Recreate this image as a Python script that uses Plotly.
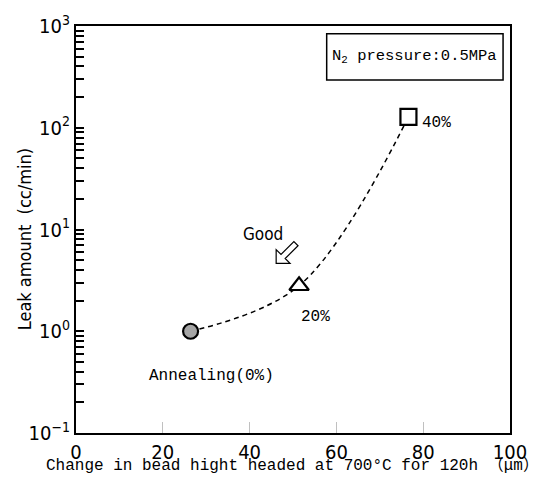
import plotly.graph_objects as go

# Data
bead_change = [26.4, 51.4, 76.6]          # um
leak_amount = [1.0, 2.8, 128.0]           # cc/min
point_labels = ["Annealing(0%)", "20%", "40%"]
symbols = ["circle", "triangle-up", "square"]
fills = ["#a6a6a6", "white", "white"]
sizes = [15, 17, 16]

x_ticks = [0, 20, 40, 60, 80, 100]
y_decades = [0.1, 1, 10, 100, 1000]
y_decade_text = ["10<sup>−1</sup>", "10<sup>0</sup>", "10<sup>1</sup>", "10<sup>2</sup>", "10<sup>3</sup>"]

# tick positions: decades labelled, 2..9 multiples unlabelled
y_tickvals, y_ticktext = [], []
for d, t in zip(y_decades, y_decade_text):
    y_tickvals.append(d)
    y_ticktext.append(t)
    if d < 1000:
        for m in range(2, 10):
            y_tickvals.append(d * m)
            y_ticktext.append(" ")

NARROW = "Liberation Sans Narrow, DejaVu Sans Condensed, Liberation Sans, Arial"
MONO = "Liberation Mono, DejaVu Sans Mono, Noto Sans CJK JP, monospace"

fig = go.Figure()
fig.add_trace(go.Scatter(
    x=bead_change, y=leak_amount, mode="lines",
    line=dict(color="black", width=1.5, dash="5px,4px", shape="spline", smoothing=1.0),
    hoverinfo="skip", showlegend=False))
fig.add_trace(go.Scatter(
    x=bead_change, y=leak_amount, mode="markers",
    marker=dict(symbol=symbols, size=sizes, color=fills, opacity=1,
                line=dict(color="black", width=2.2)),
    showlegend=False))

L, R, T, B = 76, 25, 18, 58
W, H = 539, 491
pw, ph = W - L - R, H - T - B

def px(x):
    return (x - L) / pw

def py(y):
    return (H - B - y) / ph

annos = [
    ("Annealing(0%)", 213, 375, MONO, 16),
    ("20%", 318, 315, MONO, 16),
    ("40%", 440, 117, MONO, 16),
    ("Good", 265, 230, NARROW, 17),
    ("N<sub>2</sub> pressure:0.5MPa", 418, 49, MONO, 15.5),
]
for text, x, y, fam, sz in annos:
    fig.add_annotation(text=text, x=px(x), y=py(y), xref="paper", yref="paper",
                       showarrow=False, xanchor="center", yanchor="middle",
                       font=dict(family=fam, size=sz, color="black"))

# axis titles placed as annotations for precise position
fig.add_annotation(text="Change in bead hight headed at 700°C for 120h （μm）",
                   x=px(294), y=py(466), xref="paper", yref="paper", showarrow=False,
                   xanchor="center", yanchor="middle",
                   font=dict(family=MONO, size=16, color="black"))
fig.add_annotation(text="Leak amount  (cc/min)", textangle=-90,
                   x=px(24), y=py(235), xref="paper", yref="paper", showarrow=False,
                   xanchor="center", yanchor="middle",
                   font=dict(family=NARROW, size=18, color="black"))

# box around pressure note
fig.add_shape(type="rect", xref="paper", yref="paper",
              x0=px(329), x1=px(507), y0=py(73), y1=py(26),
              line=dict(color="black", width=1.5))

# open block arrow ("Good" direction)
pts = [(278, 260), (278, 246), (282.9, 250.9), (295.9, 237.9),
       (300.1, 242.1), (287.1, 255.1), (292, 260)]
path = "M " + " L ".join(f"{px(a):.5f},{py(b):.5f}" for a, b in pts) + " Z"
fig.add_shape(type="path", xref="paper", yref="paper", path=path,
              line=dict(color="black", width=1.2), fillcolor="white")

fig.update_layout(
    width=W, height=H,
    margin=dict(l=L, r=R, t=T, b=B),
    paper_bgcolor="white", plot_bgcolor="white",
    xaxis=dict(range=[0, 100], tickvals=x_ticks, ticks="inside", ticklen=11,
               tickcolor="#c0c0c0", tickwidth=1, showgrid=False, zeroline=False,
               showline=True, linecolor="black", linewidth=2, mirror=True,
               tickfont=dict(family=NARROW, size=20, color="black")),
    yaxis=dict(type="log", range=[-1, 3], tickvals=y_tickvals, ticktext=y_ticktext,
               ticks="inside", ticklen=8, tickcolor="black", tickwidth=1.5,
               showgrid=False, zeroline=False,
               showline=True, linecolor="black", linewidth=2, mirror=True,
               tickfont=dict(family=NARROW, size=20, color="black")),
)

fig.write_html("out.html")
